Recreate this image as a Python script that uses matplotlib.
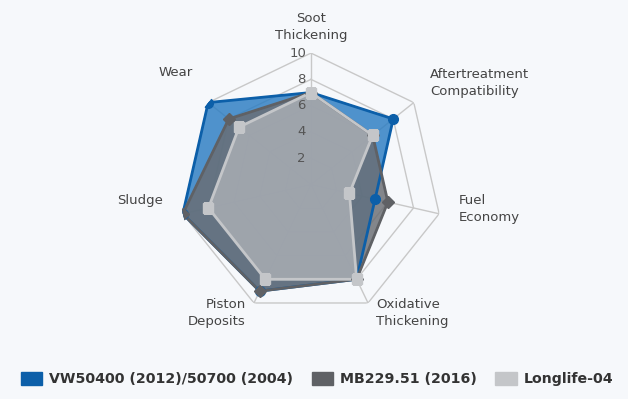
import numpy as np
import matplotlib
matplotlib.use("Agg")
import matplotlib.pyplot as plt
from matplotlib.patches import Patch

categories = ["Soot\nThickening", "Aftertreatment\nCompatibility", "Fuel\nEconomy",
              "Oxidative\nThickening", "Piston\nDeposits", "Sludge", "Wear"]
vw = [7, 8, 5, 8, 9, 10, 10]
mb = [7, 6, 6, 8, 9, 10, 8]
longlife = [7, 6, 3, 8, 8, 8, 7]
series_names = ["VW50400 (2012)/50700 (2004)", "MB229.51 (2016)", "Longlife-04"]
rings = [2, 4, 6, 8, 10]

line_colors = ["#0c5fa9", "#5f6165", "#c4c6c9"]
fill_colors = ["#2a7cc2", "#6a6d72", "#abafb5"]
markers = ["o", "D", "s"]
bg = "#f6f8fb"

# label offsets in pixels from the outer vertex (dx, dy, ha, va)
label_pos = [(0, 11, "center", "bottom"), (16, 20, "left", "center"),
             (20, 5, "left", "center"), (8, -10, "left", "center"),
             (-8, -10, "right", "center"), (-20, 13, "right", "center"),
             (-15, 30, "right", "center")]

n = len(categories)
theta = np.arange(n) * 2 * np.pi / n
theta_c = np.append(theta, theta[0])

fig = plt.figure(figsize=(6.28, 3.99), dpi=100, facecolor=bg)
ax = fig.add_axes([0.2858, 0.208, 0.4188, 0.659], projection="polar")
ax.set_facecolor("none")
ax.set_theta_offset(np.pi / 2)
ax.set_theta_direction(-1)
ax.set_ylim(0, 10)
ax.grid(False)
ax.spines["polar"].set_visible(False)
ax.set_xticks([])
ax.set_yticks([])

# polygon grid
for r in rings:
    ax.plot(theta_c, [r] * (n + 1), color="#c8c8c8", lw=1, zorder=1)
for t in theta:
    ax.plot([t, t], [0, 10], color="#c8c8c8", lw=1, zorder=1)

for vals, lc, fc, m, name in zip([vw, mb, longlife], line_colors, fill_colors, markers, series_names):
    v = np.append(vals, vals[0])
    ax.fill(theta_c, v, color=fc, alpha=0.82, zorder=2)
    ax.plot(theta_c, v, color=lc, lw=2, zorder=3)
    ax.plot(theta, vals, ls="none", marker=m, ms=7 if m != "D" else 6,
            color=lc, mec=lc, zorder=4)

for r in rings:
    ax.annotate(str(r), xy=(0, r), xytext=(-5, 0), textcoords="offset pixels",
                ha="right", va="center", fontsize=9.5, color="#555555", zorder=5)

for t, lab, (dx, dy, ha, va) in zip(theta, categories, label_pos):
    ax.annotate(lab, xy=(t, 10), xytext=(dx, dy), textcoords="offset pixels",
                ha=ha, va=va, fontsize=9.5, color="#444444", linespacing=1.4,
                annotation_clip=False)

handles = [Patch(facecolor=c, edgecolor=c) for c in line_colors]
fig.legend(handles, series_names, loc="lower center", bbox_to_anchor=(0.505, 0.0),
           ncol=3, frameon=False, prop={"weight": "bold", "size": 10.2},
           handlelength=1.5, handleheight=1.1, handletextpad=0.5,
           columnspacing=1.3, labelcolor="#333333")

fig.savefig("out.png", dpi=100, facecolor=bg)
